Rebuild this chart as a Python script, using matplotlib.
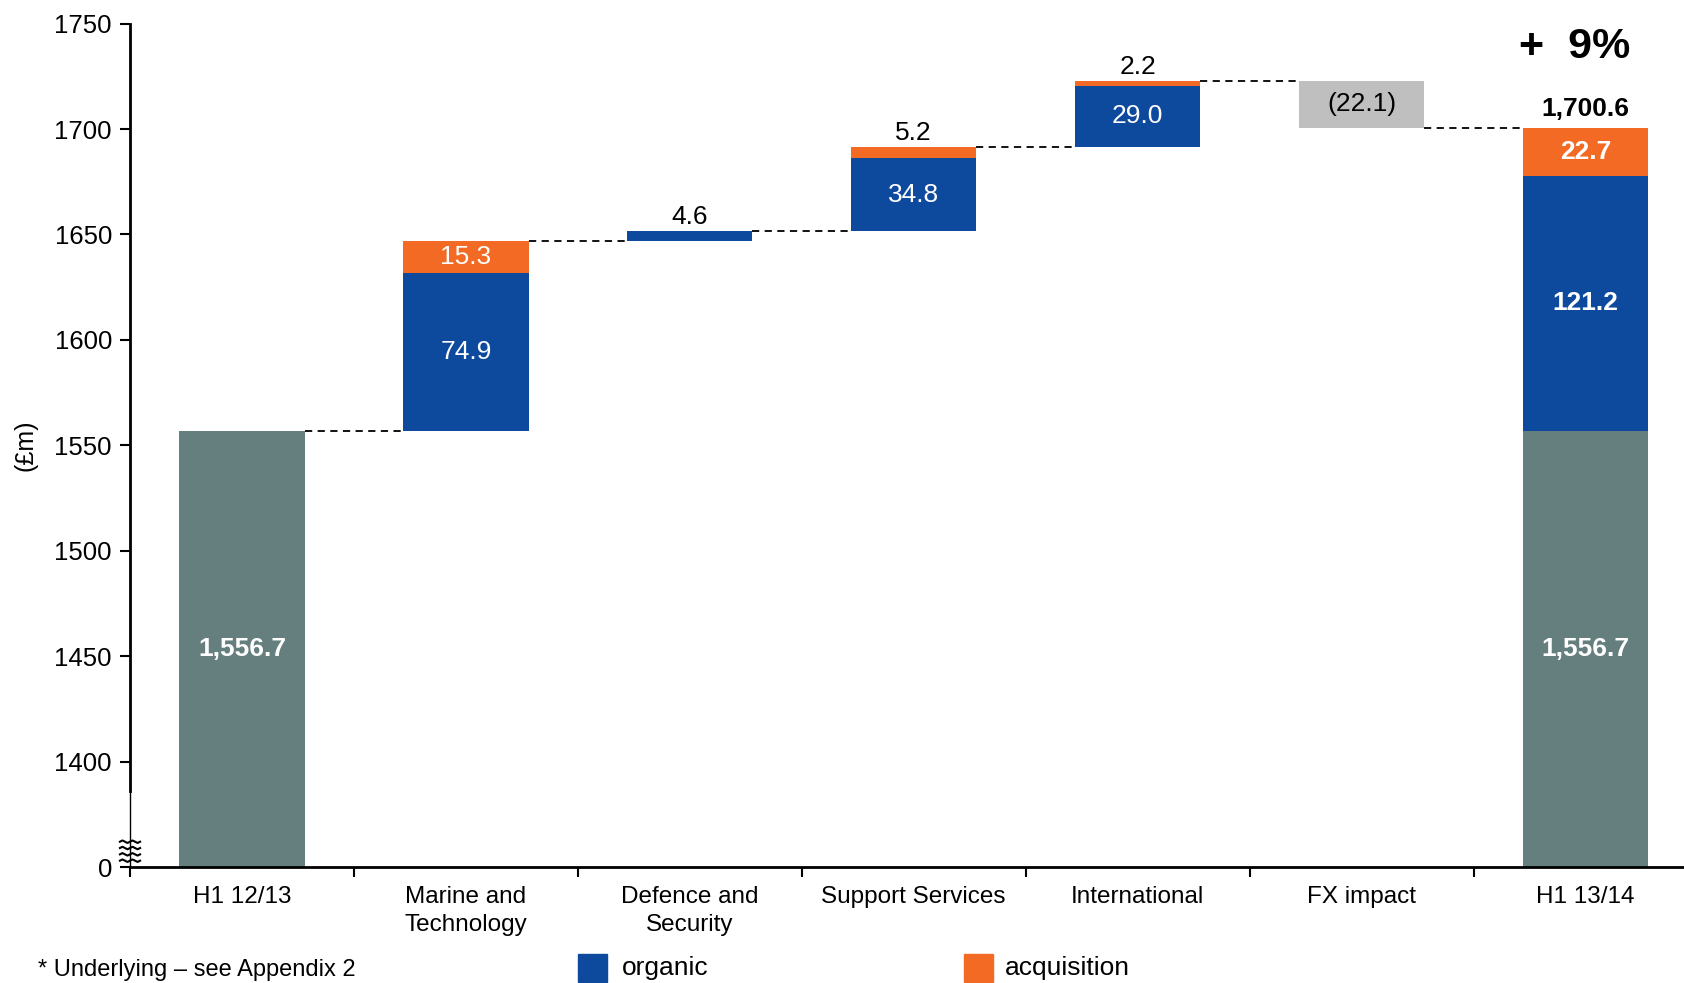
import matplotlib.pyplot as plt
import numpy as np

plt.rcParams['font.family'] = ['Liberation Sans', 'DejaVu Sans']

categories = ["H1 12/13", "Marine and\nTechnology", "Defence and\nSecurity",
              "Support Services", "International", "FX impact", "H1 13/14"]
start_total = 1556.7
organic = [74.9, 4.6, 34.8, 29.0]
acquisition = [15.3, 0.0, 5.2, 2.2]
fx_impact = -22.1
end_organic = 121.2
end_acquisition = 22.7
end_total = 1700.6
y_ticks = [1350, 1400, 1450, 1500, 1550, 1600, 1650, 1700, 1750]
y_tick_labels = ["0", "1400", "1450", "1500", "1550", "1600", "1650", "1700", "1750"]

c_base = "#647F7E"
c_org = "#0D4A9E"
c_acq = "#F26A23"
c_fx = "#BFBFBF"
w = 0.56
axis_floor = 1350
fs = 19

fig = plt.figure(figsize=(16.84, 9.83), dpi=100)
ax = fig.add_axes([0.0772, 0.118, 0.9228, 0.858])

x = np.arange(len(categories))

# start bar
ax.bar(0, start_total - axis_floor, bottom=axis_floor, width=w, color=c_base)
ax.text(0, (start_total + axis_floor) / 2, f"{start_total:,.1f}", color="white",
        fontsize=fs, fontweight="bold", ha="center", va="center")

levels = [start_total]
level = start_total
for i, (o, a) in enumerate(zip(organic, acquisition)):
    xi = i + 1
    ax.bar(xi, o, bottom=level, width=w, color=c_org)
    if a > 0:
        ax.bar(xi, a, bottom=level + o, width=w, color=c_acq)
    if o > 10:
        ax.text(xi, level + o / 2, f"{o:.1f}", color="white", fontsize=fs,
                ha="center", va="center")
    else:
        ax.text(xi, level + o + 1, f"{o:.1f}", color="black", fontsize=fs,
                ha="center", va="bottom")
    if a > 10:
        ax.text(xi, level + o + a / 2, f"{a:.1f}", color="white", fontsize=fs,
                ha="center", va="center")
    elif a > 0:
        ax.text(xi, level + o + a + 1, f"{a:.1f}", color="black", fontsize=fs,
                ha="center", va="bottom")
    level = level + o + a
    levels.append(level)

# FX impact
ax.bar(5, -fx_impact, bottom=level + fx_impact, width=w, color=c_fx)
ax.text(5, level + fx_impact / 2, f"({-fx_impact:.1f})", color="black",
        fontsize=fs, ha="center", va="center")
level = level + fx_impact
levels.append(level)

# end bar
ax.bar(6, start_total - axis_floor, bottom=axis_floor, width=w, color=c_base)
ax.bar(6, end_organic, bottom=start_total, width=w, color=c_org)
ax.bar(6, end_acquisition, bottom=start_total + end_organic, width=w, color=c_acq)
ax.text(6, (start_total + axis_floor) / 2, f"{start_total:,.1f}", color="white",
        fontsize=fs, fontweight="bold", ha="center", va="center")
ax.text(6, start_total + end_organic / 2, f"{end_organic:.1f}", color="white",
        fontsize=fs, fontweight="bold", ha="center", va="center")
ax.text(6, start_total + end_organic + end_acquisition / 2, f"{end_acquisition:.1f}",
        color="white", fontsize=fs, fontweight="bold", ha="center", va="center")
ax.text(6, end_total + 3, f"{end_total:,.1f}", color="black", fontsize=fs,
        fontweight="bold", ha="center", va="bottom")
ax.text(5.95, 1739, "+  9%", color="black", fontsize=31, fontweight="bold",
        ha="center", va="center")

# connectors
for i, lv in enumerate(levels):
    ax.plot([i + w / 2, i + 1 - w / 2], [lv, lv], color="black", lw=1.3,
            ls=(0, (4, 3)))

ax.set_xlim(-0.5, 6.44)
ax.set_ylim(axis_floor, 1750)
ax.set_yticks(y_ticks)
ax.set_yticklabels(y_tick_labels, fontsize=18.5)
ax.set_xticks(x)
ax.set_xticklabels(categories, fontsize=17.5, linespacing=1.3)
ax.set_xticks(np.arange(-0.5, 6.0, 1.0), minor=True)
ax.tick_params(axis="x", which="major", length=0, pad=14)
ax.tick_params(axis="x", which="minor", length=7, width=1.5, direction="out")
ax.tick_params(axis="y", length=7, width=1.5, direction="out", pad=6)

for s in ["top", "right"]:
    ax.spines[s].set_visible(False)
ax.spines["bottom"].set_linewidth(2)
ax.spines["left"].set_linewidth(2)
ax.spines["left"].set_bounds(1386, 1750)

# axis break
ax.plot([-0.5, -0.5], [axis_floor, 1386], color="black", lw=1, clip_on=False)
for yb in [1353, 1356, 1359, 1362]:
    xs = np.linspace(-0.545, -0.455, 9)
    ys = yb + np.array([0, 0.6, 0, -0.6, 0, 0.6, 0, -0.6, 0])
    ax.plot(xs, ys, color="black", lw=1.5, clip_on=False)

ax.set_ylabel("(£m)", fontsize=18, labelpad=12)

# legend
fig.patches.append(plt.Rectangle((578 / 1684, 1 - 982 / 983), 29 / 1684, 28 / 983,
                                 transform=fig.transFigure, color=c_org))
fig.text(622 / 1684, 1 - 968 / 983, "organic", fontsize=19, va="center")
fig.patches.append(plt.Rectangle((964 / 1684, 1 - 982 / 983), 29 / 1684, 28 / 983,
                                 transform=fig.transFigure, color=c_acq))
fig.text(1005 / 1684, 1 - 968 / 983, "acquisition", fontsize=19, va="center")

fig.text(38 / 1684, 1 - 981 / 983, "* Underlying – see Appendix 2", fontsize=17,
         va="bottom")

fig.savefig("out.png", dpi=100)
